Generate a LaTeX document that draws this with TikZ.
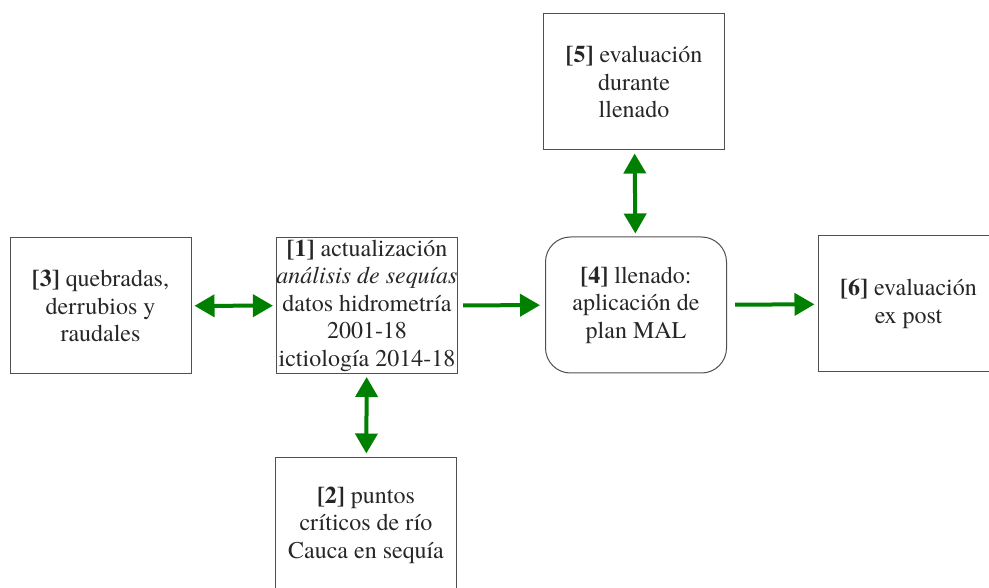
\documentclass[tikz,border=0pt]{standalone}
\usepackage{fontspec}
\setmainfont{texgyretermes}[Extension=.otf, UprightFont=*-regular, BoldFont=*-bold,
  ItalicFont=*-italic, BoldItalicFont=*-bolditalic]
\usetikzlibrary{arrows.meta}
\definecolor{verdeflecha}{RGB}{0,128,0}
\definecolor{gris}{RGB}{80,80,80}

\begin{document}
\begin{tikzpicture}[x=1pt,y=1pt,yscale=-1,
  caja/.style={draw=gris, line width=1pt, minimum width=181pt, minimum height=136pt,
    align=center, inner xsep=0pt, inner ysep=1pt, text=black!85, font=\fontsize{24}{27.5}\selectfont},
  flecha/.style={draw=verdeflecha, line width=4pt, shorten <=3pt, shorten >=3pt,
    -{Triangle[length=20pt,width=22pt]}},
  dobleflecha/.style={flecha, {Triangle[length=20pt,width=22pt]}-{Triangle[length=20pt,width=22pt]}}]
  \useasboundingbox (0,0) rectangle (989,588);

  %Boxes
  \node[caja] (b3) at (100.5,306) {\textbf{[3]} quebradas,\\derrubios y\\raudales};
  \node[caja] (b1) at (367,305.5) {\textbf{[1]} actualización\\\textit{análisis de sequías}\\datos hidrometría\\2001-18\\ictiología 2014-18};
  \node[caja] (b2) at (366,525) {\textbf{[2]} puntos\\críticos de río\\Cauca en sequía};
  \node[caja] (b5) at (634,82) {\textbf{[5]} evaluación\\durante\\llenado};
  \node[caja, rounded corners=25pt] (b4) at (636,305) {\textbf{[4]} llenado:\\aplicación de\\plan MAL};
  \node[caja] (b6) at (908.5,304) {\textbf{[6]} evaluación\\ex post};

  %Arrows
  \draw[dobleflecha] (b3) -- (b1);
  \draw[dobleflecha] (b1) -- (b2);
  \draw[flecha, shorten <=5pt, shorten >=5pt] (b1) -- (b4);
  \draw[dobleflecha] (b4) -- (b5);
  \draw[flecha, shorten <=8pt] (b4) -- (b6);

\end{tikzpicture}
\end{document}
